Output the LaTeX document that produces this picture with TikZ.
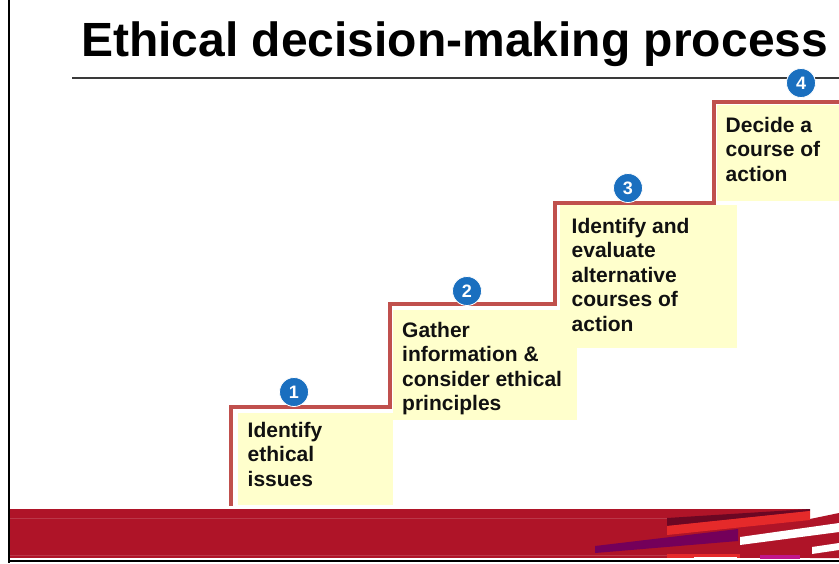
\documentclass[tikz,border=0pt]{standalone}
\usepackage{fontspec}
\setmainfont{Liberation Sans}
\definecolor{boxyellow}{HTML}{FFFFCC}
\definecolor{stairred}{HTML}{C0504D}
\definecolor{badgeblue}{HTML}{1A6FBF}
\definecolor{textgray}{HTML}{111111}
\definecolor{rulegray}{HTML}{3A3A3A}
\definecolor{bandred}{HTML}{AF1428}
\definecolor{stripemaroon}{HTML}{6B0723}
\definecolor{stripered}{HTML}{E52A2A}
\definecolor{stripepurple}{HTML}{74005A}
\definecolor{stripemagenta}{HTML}{C0168C}
\tikzset{
  stepbox/.style={fill=boxyellow},
  stair/.style={draw=stairred, line width=3.5pt, line join=miter},
  badge/.style={circle, fill=badgeblue, draw=white, line width=0.8pt,
    minimum size=29pt, inner sep=0pt, text=white,
    font=\bfseries\fontsize{18}{18}\selectfont},
  steptext/.style={anchor=north west, inner sep=0pt, align=left,
    text=textgray, font=\bfseries\fontsize{21}{24.5}\selectfont},
  titletext/.style={anchor=base west, inner sep=0pt, text=black,
    font=\bfseries\fontsize{48}{48}\selectfont},
  frameline/.style={draw=black, line width=2pt},
}
\begin{document}
\begin{tikzpicture}[x=1pt,y=-1pt]
\useasboundingbox (0,0) rectangle (839,563);
\fill[white] (0,0) rectangle (839,563);

% heading and rule
\node[titletext] (title) at (81,56) {Ethical decision-making process};
\draw[rulegray, line width=1.2pt] (72,78) -- (839,78);

% yellow step panels
\path[stepbox] (238,413) rectangle (393,505);
\path[stepbox] (393,310) rectangle (577,420);
\path[stepbox] (560,205) rectangle (737,348);
\path[stepbox] (717,105) rectangle (839,201);

% staircase outline
\draw[stair] (231,506) -- (231,407) -- (390,407) -- (390,304)
  -- (555,304) -- (555,203) -- (714,203) -- (714,102) -- (839,102);

% step labels
\node[steptext] (t1) at (247.5,421.8) {Identify\\ethical\\issues};
\node[steptext] (t2) at (402,321.7) {Gather\\information \&\\consider ethical\\principles};
\node[steptext] (t3) at (571.5,217.8) {Identify and\\evaluate\\alternative\\courses of\\action};
\node[steptext] (t4) at (725.5,117) {Decide a\\course of\\action};

% numbered badges
\node[badge] (n1) at (294,392) {1};
\node[badge] (n2) at (467,291) {2};
\node[badge] (n3) at (628,188) {3};
\node[badge] (n4) at (801,83) {4};

% footer band with slanted stripes
\fill[bandred] (10,509) rectangle (810,558);
\fill[bandred] (810,519) -- (839,513) -- (839,558) -- (810,558) -- cycle;
\draw[bandred!85!white, line width=0.6pt] (10,518.5) -- (667,518.5);
\draw[bandred!85!white, line width=0.6pt] (10,555) -- (667,555);
\fill[stripemaroon] (667,518) -- (810,509) -- (810,511) -- (667,526) -- cycle;
\fill[stripered] (667,526) -- (810,511) -- (810,520) -- (667,535) -- cycle;
\fill[stripepurple] (595,546) -- (738,529) -- (738,541) -- (595,553) -- cycle;
\fill[white] (740,537) -- (839,523) -- (839,532) -- (740,545) -- cycle;
\fill[white] (812,547) -- (839,543) -- (839,550) -- (812,554) -- cycle;
\fill[stripered] (667,554) rectangle (740,558);
\fill[white] (694,557) rectangle (737,560);
\fill[stripemagenta] (760,555) rectangle (800,559);

% frame lines
\draw[frameline] (8.5,0) -- (8.5,563);
\draw[black, line width=1.5pt] (8.5,561) -- (839,561);
\end{tikzpicture}
\end{document}
